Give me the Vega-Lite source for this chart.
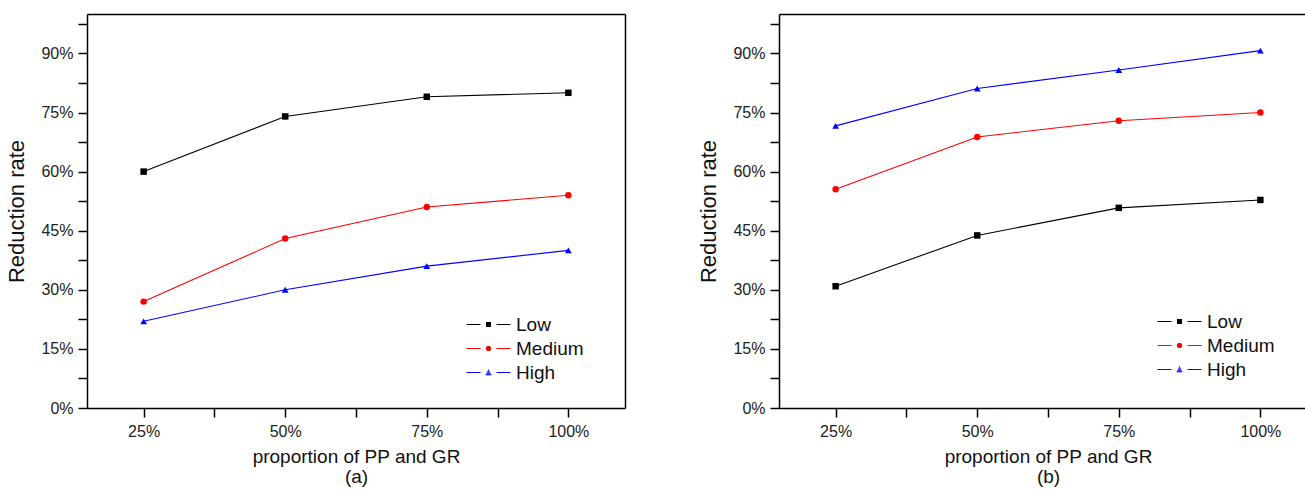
{
  "$schema": "https://vega.github.io/schema/vega-lite/v6.json",
  "padding": {"left": 5, "top": 13, "right": 0, "bottom": 0},
  "background": "white",
  "spacing": 71,
  "config": {
    "font": "Liberation Sans",
    "view": {"stroke": "transparent"},
    "axis": {"grid": false, "domainColor": "#000", "domainWidth": 1.5, "tickColor": "#000", "tickWidth": 1.5, "labelColor": "#222", "titleColor": "#111", "labelFont": "Liberation Sans", "titleFont": "Liberation Sans", "titleFontWeight": "normal", "labelOverlap": false, "labelFlush": false}
  },
  "datasets": {
    "a": [
      {"p": 25, "rate": 0.60, "level": "Low"},
      {"p": 50, "rate": 0.74, "level": "Low"},
      {"p": 75, "rate": 0.79, "level": "Low"},
      {"p": 100, "rate": 0.80, "level": "Low"},
      {"p": 25, "rate": 0.27, "level": "Medium"},
      {"p": 50, "rate": 0.43, "level": "Medium"},
      {"p": 75, "rate": 0.51, "level": "Medium"},
      {"p": 100, "rate": 0.54, "level": "Medium"},
      {"p": 25, "rate": 0.22, "level": "High"},
      {"p": 50, "rate": 0.30, "level": "High"},
      {"p": 75, "rate": 0.36, "level": "High"},
      {"p": 100, "rate": 0.40, "level": "High"}
    ],
    "b": [
      {"p": 25, "rate": 0.309, "level": "Low"},
      {"p": 50, "rate": 0.438, "level": "Low"},
      {"p": 75, "rate": 0.508, "level": "Low"},
      {"p": 100, "rate": 0.528, "level": "Low"},
      {"p": 25, "rate": 0.555, "level": "Medium"},
      {"p": 50, "rate": 0.688, "level": "Medium"},
      {"p": 75, "rate": 0.729, "level": "Medium"},
      {"p": 100, "rate": 0.750, "level": "Medium"},
      {"p": 25, "rate": 0.716, "level": "High"},
      {"p": 50, "rate": 0.811, "level": "High"},
      {"p": 75, "rate": 0.858, "level": "High"},
      {"p": 100, "rate": 0.907, "level": "High"}
    ]
  },
  "hconcat": [
    {
      "width": 538,
      "height": 394,
      "data": {"name": "a"},
      "layer": [
        {"mark": {"type": "line", "strokeWidth": 1.1},
          "encoding": {
            "x": {"field": "p", "type": "quantitative",
              "scale": {"domain": [15, 110], "nice": false, "zero": false},
              "axis": {"orient": "bottom", "values": [25, 37.5, 50, 62.5, 75, 87.5, 100],
                "labelExpr": "datum.value % 25 === 0 ? datum.value + '%' : ''",
                "tickSize": 9, "labelFontSize": 16, "labelPadding": 6,
                "title": ["proportion of PP and GR", "(a)"], "titleFontSize": 19, "titleLineHeight": 20, "titlePadding": 8}},
            "y": {"field": "rate", "type": "quantitative",
              "scale": {"domain": [0, 1], "nice": false},
              "axis": {"orient": "left", "values": [0, 0.075, 0.15, 0.225, 0.3, 0.375, 0.45, 0.525, 0.6, 0.675, 0.75, 0.825, 0.9, 0.975],
                "labelExpr": "round(datum.value * 1000) % 150 === 0 ? format(datum.value, '.0%') : ''",
                "tickSize": 9, "labelFontSize": 16, "labelPadding": 5,
                "title": "Reduction rate", "titleFontSize": 22, "titlePadding": 12}},
            "color": {"field": "level", "type": "nominal",
              "scale": {"domain": ["Low", "Medium", "High"], "range": ["#000000", "#ff0000", "#0000ff"]}}
          }},
        {"transform": [{"filter": "datum.level === 'Low'"}],
          "mark": {"type": "point", "shape": "square", "filled": true, "size": 42, "opacity": 1},
          "encoding": {
            "x": {"field": "p", "type": "quantitative", "axis": null},
            "y": {"field": "rate", "type": "quantitative", "axis": null},
            "color": {"field": "level", "type": "nominal"}}},
        {"transform": [{"filter": "datum.level === 'Medium'"}],
          "mark": {"type": "point", "shape": "circle", "filled": true, "size": 42, "opacity": 1},
          "encoding": {
            "x": {"field": "p", "type": "quantitative", "axis": null},
            "y": {"field": "rate", "type": "quantitative", "axis": null},
            "color": {"field": "level", "type": "nominal"}}},
        {"transform": [{"filter": "datum.level === 'High'"}],
          "mark": {"type": "point", "shape": "triangle-up", "filled": true, "size": 46, "opacity": 1},
          "encoding": {
            "x": {"field": "p", "type": "quantitative", "axis": null},
            "y": {"field": "rate", "type": "quantitative", "axis": null},
            "color": {"field": "level", "type": "nominal"}}},
        {"mark": {"type": "point", "filled": false, "opacity": 0, "size": 4},
          "encoding": {
            "x": {"field": "p", "type": "quantitative",
              "axis": {"orient": "top", "domain": true, "ticks": false, "labels": false, "title": null}},
            "y": {"field": "rate", "type": "quantitative",
              "axis": {"orient": "right", "domain": true, "ticks": false, "labels": false, "title": null}},
            "color": {"field": "level", "type": "nominal",
              "legend": {"orient": "none", "legendX": 392, "legendY": 301, "title": null, "padding": 0, "symbolSize": 4, "symbolStrokeWidth": 1, "symbolOpacity": 1, "labelFontSize": 19, "labelColor": "#111", "labelOffset": 18, "rowPadding": 4}},
            "shape": {"field": "level", "type": "nominal",
              "scale": {"domain": ["Low", "Medium", "High"], "range": [
                "M-22,0H-8M8,0H22M-2.5,-2H2.5M-2.5,-1H2.5M-2.5,0H2.5M-2.5,1H2.5M-2.5,2H2.5",
                "M-22,0H-8M8,0H22M-1.8,-2H1.8M-2.5,-1H2.5M-2.7,0H2.7M-2.5,1H2.5M-1.8,2H1.8",
                "M-22,0H-8M8,0H22M-0.5,-2.5H0.5M-0.9,-1.5H0.9M-1.4,-0.5H1.4M-1.9,0.5H1.9M-2.4,1.5H2.4M-2.9,2.3H2.9"]},
              "legend": {"orient": "none", "legendX": 392, "legendY": 301, "title": null, "padding": 0, "symbolSize": 4, "symbolStrokeWidth": 1, "symbolOpacity": 1, "labelFontSize": 19, "labelColor": "#111", "labelOffset": 18, "rowPadding": 4}}
          }}
      ],
      "resolve": {"axis": {"x": "independent", "y": "independent"}}
    },
    {
      "width": 538,
      "height": 394,
      "data": {"name": "b"},
      "layer": [
        {"mark": {"type": "line", "strokeWidth": 1.1},
          "encoding": {
            "x": {"field": "p", "type": "quantitative",
              "scale": {"domain": [15, 110], "nice": false, "zero": false},
              "axis": {"orient": "bottom", "values": [25, 37.5, 50, 62.5, 75, 87.5, 100],
                "labelExpr": "datum.value % 25 === 0 ? datum.value + '%' : ''",
                "tickSize": 9, "labelFontSize": 16, "labelPadding": 6,
                "title": ["proportion of PP and GR", "(b)"], "titleFontSize": 19, "titleLineHeight": 20, "titlePadding": 8}},
            "y": {"field": "rate", "type": "quantitative",
              "scale": {"domain": [0, 1], "nice": false},
              "axis": {"orient": "left", "values": [0, 0.075, 0.15, 0.225, 0.3, 0.375, 0.45, 0.525, 0.6, 0.675, 0.75, 0.825, 0.9, 0.975],
                "labelExpr": "round(datum.value * 1000) % 150 === 0 ? format(datum.value, '.0%') : ''",
                "tickSize": 9, "labelFontSize": 16, "labelPadding": 5,
                "title": "Reduction rate", "titleFontSize": 22, "titlePadding": 12}},
            "color": {"field": "level", "type": "nominal",
              "scale": {"domain": ["Low", "Medium", "High"], "range": ["#000000", "#ff0000", "#0000ff"]}}
          }},
        {"transform": [{"filter": "datum.level === 'Low'"}],
          "mark": {"type": "point", "shape": "square", "filled": true, "size": 42, "opacity": 1},
          "encoding": {
            "x": {"field": "p", "type": "quantitative", "axis": null},
            "y": {"field": "rate", "type": "quantitative", "axis": null},
            "color": {"field": "level", "type": "nominal"}}},
        {"transform": [{"filter": "datum.level === 'Medium'"}],
          "mark": {"type": "point", "shape": "circle", "filled": true, "size": 42, "opacity": 1},
          "encoding": {
            "x": {"field": "p", "type": "quantitative", "axis": null},
            "y": {"field": "rate", "type": "quantitative", "axis": null},
            "color": {"field": "level", "type": "nominal"}}},
        {"transform": [{"filter": "datum.level === 'High'"}],
          "mark": {"type": "point", "shape": "triangle-up", "filled": true, "size": 46, "opacity": 1},
          "encoding": {
            "x": {"field": "p", "type": "quantitative", "axis": null},
            "y": {"field": "rate", "type": "quantitative", "axis": null},
            "color": {"field": "level", "type": "nominal"}}},
        {"mark": {"type": "point", "filled": false, "opacity": 0, "size": 4},
          "encoding": {
            "x": {"field": "p", "type": "quantitative",
              "axis": {"orient": "top", "domain": true, "ticks": false, "labels": false, "title": null}},
            "y": {"field": "rate", "type": "quantitative",
              "axis": {"orient": "right", "domain": true, "ticks": false, "labels": false, "title": null}},
            "color": {"field": "level", "type": "nominal",
              "legend": {"orient": "none", "legendX": 391, "legendY": 298, "title": null, "padding": 0, "symbolSize": 4, "symbolStrokeWidth": 1, "symbolOpacity": 1, "labelFontSize": 19, "labelColor": "#111", "labelOffset": 18, "rowPadding": 4}},
            "shape": {"field": "level", "type": "nominal",
              "scale": {"domain": ["Low", "Medium", "High"], "range": [
                "M-22,0H-8M8,0H22M-2.5,-2H2.5M-2.5,-1H2.5M-2.5,0H2.5M-2.5,1H2.5M-2.5,2H2.5",
                "M-22,0H-8M8,0H22M-1.8,-2H1.8M-2.5,-1H2.5M-2.7,0H2.7M-2.5,1H2.5M-1.8,2H1.8",
                "M-22,0H-8M8,0H22M-0.5,-2.5H0.5M-0.9,-1.5H0.9M-1.4,-0.5H1.4M-1.9,0.5H1.9M-2.4,1.5H2.4M-2.9,2.3H2.9"]},
              "legend": {"orient": "none", "legendX": 391, "legendY": 298, "title": null, "padding": 0, "symbolSize": 4, "symbolStrokeWidth": 1, "symbolOpacity": 1, "labelFontSize": 19, "labelColor": "#111", "labelOffset": 18, "rowPadding": 4}}
          }}
      ],
      "resolve": {"axis": {"x": "independent", "y": "independent"}}
    }
  ],
  "resolve": {"scale": {"x": "independent", "y": "independent", "color": "independent", "shape": "independent"}, "legend": {"color": "independent", "shape": "independent"}}
}
